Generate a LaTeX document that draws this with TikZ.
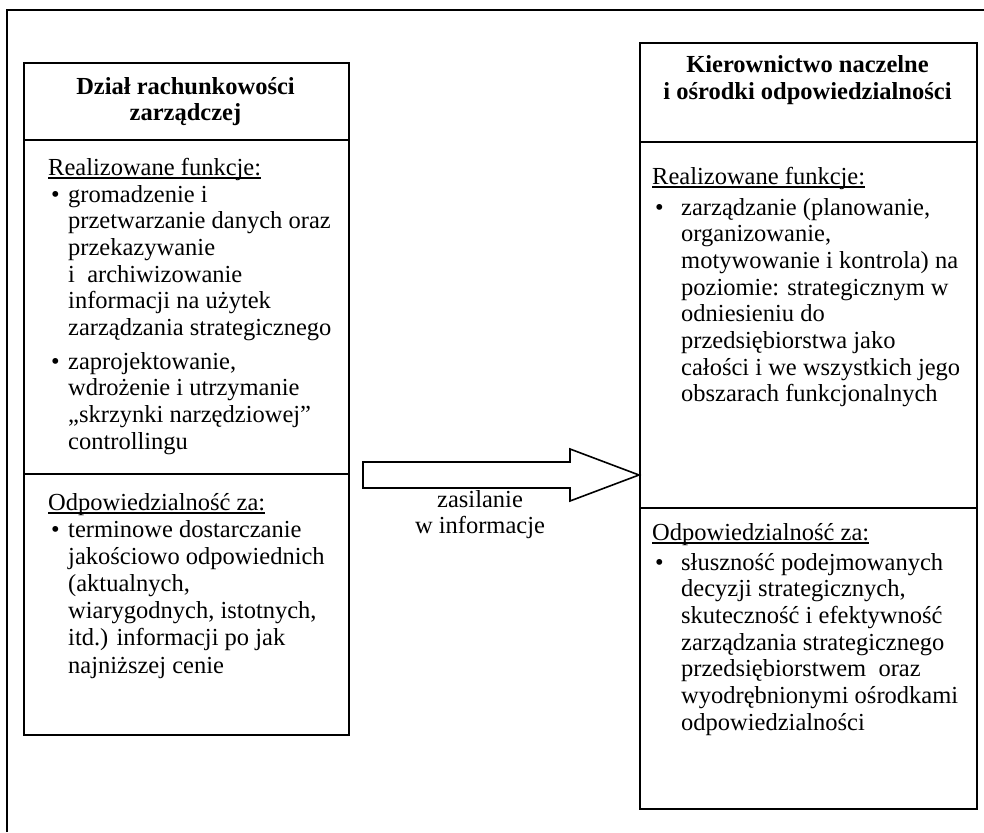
\documentclass[tikz,border=0pt]{standalone}
\usepackage{fontspec}
\setmainfont{Liberation Serif}
\begin{document}
\begin{tikzpicture}[x=1pt,y=1pt,
  frame/.style={line width=1.8pt},
  boxline/.style={line width=1.6pt},
  txt/.style={inner sep=0pt, anchor=base west, font=\fontsize{24.5}{26.7}\selectfont},
  ctr/.style={inner sep=0pt, anchor=base, font=\fontsize{24.5}{26.7}\selectfont},
  ttl/.style={inner sep=0pt, anchor=base, font=\fontsize{24.5}{26.7}\selectfont\bfseries},
  ul/.style={line width=1.1pt},
  bigarrow/.style={line width=1.6pt, fill=white, line join=miter}]
\useasboundingbox (0,0) rectangle (984,-832);
\draw[frame] (7,-832) -- (7,-10) -- (984,-10);

% ---------- left box ----------
\node[draw, boxline, anchor=north west, minimum width=325pt, minimum height=672pt, inner sep=0pt] (L) at (23,-62) {};
\draw[boxline] (L.west |- 0,-140) -- (L.east |- 0,-140);
\draw[boxline] (L.west |- 0,-474) -- (L.east |- 0,-474);
\node[ttl] (lt1) at (185.5,-95) {Dział rachunkowości};
\node[ttl] (lt2) at (185.5,-121) {zarządczej};

\node[txt] (lh1) at (48,-175) {Realizowane funkcje:};
\draw[ul] ([yshift=-3]lh1.base west) -- ([yshift=-3]lh1.base east);
\node[txt] (lb1) at (51,-202) {•};
\foreach \t [count=\i from 0] in {{gromadzenie i},{przetwarzanie danych oraz},{przekazywanie},{i\ \ archiwizowanie},{informacji na użytek},{zarządzania strategicznego}}
  \node[txt] (la-\i) at (68,{-202-\i*26.7}) {\t};
\node[txt] (lb2) at (51,-369) {•};
\foreach \t [count=\i from 0] in {{zaprojektowanie,},{wdrożenie i utrzymanie},{„skrzynki narzędziowej”},{controllingu}}
  \node[txt] (lc-\i) at (68,{-369-\i*26.7}) {\t};

\node[txt] (lh2) at (48,-510) {Odpowiedzialność za:};
\draw[ul] ([yshift=-3]lh2.base west) -- ([yshift=-3]lh2.base east);
\node[txt] (lb3) at (51,-537) {•};
\foreach \t [count=\i from 0] in {{terminowe dostarczanie},{jakościowo odpowiednich},{(aktualnych,},{wiarygodnych, istotnych,},{itd.) informacji po jak},{najniższej cenie}}
  \node[txt] (ld-\i) at (68,{-537-\i*27.2}) {\t};

% ---------- right box ----------
\node[draw, boxline, anchor=north west, minimum width=337pt, minimum height=766pt, inner sep=0pt] (R) at (639,-42) {};
\draw[boxline] (R.west |- 0,-142) -- (R.east |- 0,-142);
\draw[boxline] (R.west |- 0,-508) -- (R.east |- 0,-508);
\node[ttl] (rt1) at (807.5,-73) {Kierownictwo naczelne};
\node[ttl] (rt2) at (807.5,-100) {i ośrodki odpowiedzialności};

\node[txt] (rh1) at (652,-184) {Realizowane funkcje:};
\draw[ul] ([yshift=-3]rh1.base west) -- ([yshift=-3]rh1.base east);
\node[txt] (rb1) at (655,-215) {•};
\foreach \t [count=\i from 0] in {{zarządzanie (planowanie,},{organizowanie,},{motywowanie i kontrola) na},{poziomie: strategicznym w},{odniesieniu do},{przedsiębiorstwa jako},{całości i we wszystkich jego},{obszarach funkcjonalnych}}
  \node[txt] (ra-\i) at (681,{-215-\i*26.7}) {\t};

\node[txt] (rh2) at (652,-540) {Odpowiedzialność za:};
\draw[ul] ([yshift=-3]rh2.base west) -- ([yshift=-3]rh2.base east);
\node[txt] (rb2) at (655,-570) {•};
\foreach \t [count=\i from 0] in {{słuszność podejmowanych},{decyzji strategicznych,},{skuteczność i efektywność},{zarządzania strategicznego},{przedsiębiorstwem\ \ oraz},{wyodrębnionymi ośrodkami},{odpowiedzialności}}
  \node[txt] (rc-\i) at (681,{-570-\i*26.7}) {\t};

% ---------- arrow ----------
\coordinate (tip) at (R.west |- 0,-475);
\coordinate (tail) at (363,-475);
\draw[bigarrow] ([yshift=13]tail) -- ([xshift=-69,yshift=13]tip) -- ([xshift=-69,yshift=26]tip)
  -- (tip) -- ([xshift=-69,yshift=-26]tip) -- ([xshift=-69,yshift=-13]tip) -- ([yshift=-13]tail) -- cycle;
\node[ctr] (z1) at (480,-507) {zasilanie};
\node[ctr] (z2) at (480,-533) {w informacje};
\end{tikzpicture}
\end{document}
